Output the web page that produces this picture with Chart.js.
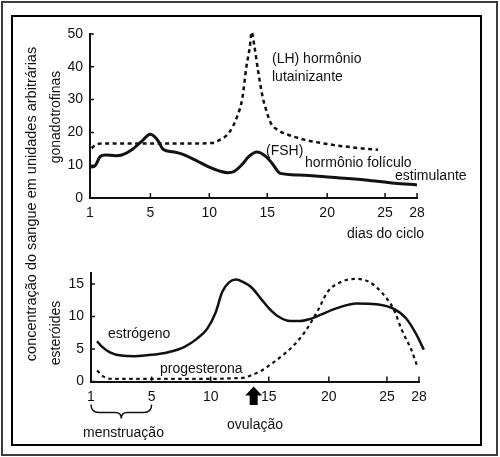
<!DOCTYPE html>
<html lang="pt">
<head>
<meta charset="utf-8">
<title>Hormônios do ciclo menstrual</title>
<script src="https://cdn.jsdelivr.net/npm/chart.js@4.4.1/dist/chart.umd.min.js"></script>
<style>
  body { margin: 0; background: #fff; }
  #wrap { position: relative; width: 500px; height: 457px; overflow: hidden;
          font-family: "Liberation Sans", Arial, sans-serif; color: #111; }
  .box { position: absolute; box-sizing: border-box; }
  #outer { left: 1px; top: 1px; width: 497px; height: 455px; border: 2px solid #3c3c3c; }
  #inner { left: 11px; top: 15px; width: 471px; height: 431px; border: 2px solid #000; }
  canvas { position: absolute; left: 0; }
  #top { top: 0; }
  #bottom { top: 240px; }
  .lbl { position: absolute; font-size: 14px; line-height: 14px; white-space: nowrap; }
  .rot { position: absolute; font-size: 14px; line-height: 14px; white-space: nowrap;
         transform: translate(-50%, -50%) rotate(-90deg); }
</style>
</head>
<body>
<div id="wrap">
  <div class="box" id="outer"></div>
  <div class="box" id="inner"></div>
  <canvas id="top" width="500" height="240"></canvas>
  <canvas id="bottom" width="500" height="217"></canvas>

  <div class="rot" style="left:31px; top:204px; font-size:14.5px;">concentração do sangue em unidades arbitrárias</div>
  <div class="rot" style="left:55px; top:117px;">gonadotrofinas</div>
  <div class="rot" style="left:55px; top:333px;">esteróides</div>

  <div class="lbl" style="left:272px; top:51px;">(LH) hormônio</div>
  <div class="lbl" style="left:272px; top:69px;">lutainizante</div>
  <div class="lbl" style="left:266px; top:143px;">(FSH)</div>
  <div class="lbl" style="left:305px; top:155px;">hormônio folículo</div>
  <div class="lbl" style="left:395px; top:168px;">estimulante</div>
  <div class="lbl" style="left:347px; top:226px;">dias do ciclo</div>
  <div class="lbl" style="left:108px; top:326px;">estrógeno</div>
  <div class="lbl" style="left:160px; top:361px;">progesterona</div>
  <div class="lbl" style="left:83px; top:425px;">menstruação</div>
  <div class="lbl" style="left:227px; top:417px;">ovulação</div>
</div>

<script>
// --- dados ---
const dayTicks = [1, 5, 10, 15, 20, 25, 28];
const gonadTicks = [0, 10, 20, 30, 40, 50];
const steroidTicks = [0, 5, 10, 15];

const fshDays   = [1, 1.33, 1.67, 2, 2.7, 3.1, 3.8, 4.4, 5, 5.6, 6.1, 6.9, 7.7, 8.9, 10, 10.9, 11.6, 12.1, 12.8, 13.4, 14.1, 14.9, 15.4, 16.1, 17.7, 20.4, 23.3, 25.9, 28];
const fshValues = [9.4, 9.8, 12.6, 13.1, 12.9, 13.1, 14.8, 17.2, 19.4, 17.7, 14.8, 14.1, 13.4, 11.4, 9.4, 8.2, 7.7, 8.0, 10.1, 12.6, 14.0, 12.6, 10.6, 7.5, 7.0, 6.3, 5.5, 4.5, 4.0];

const lhDays   = [1.1, 1.5, 2, 4, 6, 8, 10.3, 10.9, 11.7, 12.4, 12.85, 13.2, 13.5, 13.65, 13.9, 14.2, 14.6, 15.0, 15.3, 15.9, 16.8, 18.2, 20.5, 22.8, 24.4];
const lhValues = [15.2, 16.5, 16.6, 16.6, 16.6, 16.6, 16.8, 17.7, 19.9, 24.8, 30.4, 40, 46.1, 50.6, 46.1, 39, 30.9, 25.8, 22.8, 20.7, 19.2, 17.7, 16.2, 15.2, 14.7];

const estrogenDays   = [1.4, 1.7, 2.25, 3.0, 3.9, 5, 6.4, 7.75, 8.85, 9.7, 10.4, 11.0, 11.6, 12.2, 12.8, 13.5, 14.3, 15.0, 15.8, 16.8, 17.6, 18.4, 19.1, 20.7, 22.4, 24.1, 25.6, 26.8, 27.7, 28.45];
const estrogenValues = [6.2, 5.4, 4.5, 4.0, 3.9, 4.1, 4.5, 5.3, 6.6, 8.1, 10.5, 13.8, 15.3, 15.7, 15.3, 14.5, 12.8, 11.3, 10.0, 9.3, 9.3, 9.6, 10.1, 11.3, 12.0, 11.9, 11.2, 9.7, 7.4, 4.9];

const progesteroneDays   = [1.4, 1.8, 2.35, 4, 6, 8, 10, 12, 12.95, 13.4, 14.4, 14.9, 16.0, 17.1, 18.1, 19.1, 19.9, 21.0, 22.4, 23.5, 24.6, 25.6, 26.4, 27.3, 27.8];
const progesteroneValues = [1.7, 0.8, 0.4, 0.4, 0.4, 0.4, 0.4, 0.5, 0.6, 0.9, 1.7, 2.3, 3.8, 5.6, 7.9, 11.0, 13.8, 15.3, 15.8, 15.3, 13.6, 11.2, 7.9, 4.8, 2.5];

const menstruationDays = [1, 5];
const ovulationDay = 13.7;

// --- eixo dos dias: na figura original os intervalos não são iguais ---
const tickOffsets = [0, 60.5, 119.5, 177.5, 237.5, 295.5, 327.5];

function dayToFraction(d) {
  const n = dayTicks.length;
  let i = 0;
  while (i < n - 2 && d > dayTicks[i + 1]) i++;
  const slope = (tickOffsets[i + 1] - tickOffsets[i]) / (dayTicks[i + 1] - dayTicks[i]);
  return (tickOffsets[i] + (d - dayTicks[i]) * slope) / tickOffsets[n - 1];
}

class CycleDayScale extends Chart.LinearScale {
  getPixelForValue(value) {
    if (value === null || isNaN(value)) return NaN;
    return this.getPixelForDecimal(dayToFraction(value));
  }
  getValueForPixel(pixel) {
    const n = dayTicks.length;
    const f = this.getDecimalForPixel(pixel) * tickOffsets[n - 1];
    let i = 0;
    while (i < n - 2 && f > tickOffsets[i + 1]) i++;
    return dayTicks[i] + (f - tickOffsets[i]) * (dayTicks[i + 1] - dayTicks[i]) / (tickOffsets[i + 1] - tickOffsets[i]);
  }
}
CycleDayScale.id = 'cycleDay';
Chart.register(CycleDayScale);

Chart.defaults.font.family = '"Liberation Sans", Arial, sans-serif';
Chart.defaults.font.size = 14;
Chart.defaults.color = '#111';

function points(xs, ys) {
  return xs.map((x, i) => ({ x: x, y: ys[i] }));
}

function curve(xs, ys, width, dash) {
  return {
    data: points(xs, ys),
    borderColor: '#111',
    borderWidth: width,
    borderDash: dash,
    pointRadius: 0,
    fill: false,
    clip: false,
    cubicInterpolationMode: 'monotone'
  };
}

// small tick marks pointing into the plot, like the drawing
const innerTicks = {
  id: 'innerTicks',
  afterDatasetsDraw(chart) {
    const { ctx, chartArea, scales } = chart;
    ctx.save();
    ctx.strokeStyle = '#111';
    ctx.lineWidth = 1.5;
    ctx.beginPath();
    scales.x.ticks.forEach((t, i) => {
      const px = scales.x.getPixelForTick(i);
      ctx.moveTo(px, chartArea.bottom);
      ctx.lineTo(px, chartArea.bottom - 5);
    });
    scales.y.ticks.forEach((t, i) => {
      const py = scales.y.getPixelForTick(i);
      ctx.moveTo(chartArea.left, py);
      ctx.lineTo(chartArea.left + 4, py);
    });
    ctx.stroke();
    ctx.restore();
  }
};

// chave da menstruação e seta da ovulação
const cycleMarks = {
  id: 'cycleMarks',
  afterDraw(chart) {
    const { ctx, chartArea, scales } = chart;
    const yA = chartArea.bottom;
    const x1 = scales.x.getPixelForValue(menstruationDays[0]);
    const x2 = scales.x.getPixelForValue(menstruationDays[1]);
    const mid = (x1 + x2) / 2;
    ctx.save();
    ctx.strokeStyle = '#111';
    ctx.lineWidth = 1.5;
    ctx.beginPath();
    ctx.moveTo(x1, yA + 23);
    ctx.quadraticCurveTo(x1, yA + 31, x1 + 8, yA + 31);
    ctx.lineTo(mid - 6, yA + 31);
    ctx.quadraticCurveTo(mid, yA + 31, mid, yA + 37);
    ctx.quadraticCurveTo(mid, yA + 31, mid + 6, yA + 31);
    ctx.lineTo(x2 - 8, yA + 31);
    ctx.quadraticCurveTo(x2, yA + 31, x2, yA + 23);
    ctx.stroke();

    const ax = scales.x.getPixelForValue(ovulationDay);
    ctx.fillStyle = '#000';
    ctx.beginPath();
    ctx.moveTo(ax, yA + 5);
    ctx.lineTo(ax + 8.5, yA + 14);
    ctx.lineTo(ax + 4, yA + 14);
    ctx.lineTo(ax + 4, yA + 23.5);
    ctx.lineTo(ax - 4, yA + 23.5);
    ctx.lineTo(ax - 4, yA + 14);
    ctx.lineTo(ax - 8.5, yA + 14);
    ctx.closePath();
    ctx.fill();
    ctx.restore();
  }
};

function axes(yMax, yTicks) {
  return {
    x: {
      type: 'cycleDay',
      min: 1,
      max: 28,
      afterBuildTicks: s => { s.ticks = dayTicks.map(v => ({ value: v })); },
      afterFit: s => { s.height = 30; },
      ticks: { autoSkip: false, maxRotation: 0, padding: 7, callback: v => String(v) },
      grid: { display: true, drawOnChartArea: false, drawTicks: false },
      border: { display: true, color: '#111', width: 2 }
    },
    y: {
      type: 'linear',
      min: 0,
      max: yMax,
      afterBuildTicks: s => { s.ticks = yTicks.map(v => ({ value: v })); },
      afterFit: s => { s.width = 40; },
      ticks: { padding: 7, callback: v => String(v) },
      grid: { display: true, drawOnChartArea: false, drawTicks: false },
      border: { display: true, color: '#111', width: 2 }
    }
  };
}

const common = {
  responsive: false,
  animation: false,
  events: [],
  plugins: { legend: { display: false }, tooltip: { enabled: false } }
};

new Chart(document.getElementById('top'), {
  type: 'line',
  data: {
    datasets: [
      curve(fshDays, fshValues, 3, []),
      curve(lhDays, lhValues, 2.5, [4, 3.5])
    ]
  },
  options: Object.assign({}, common, {
    layout: { padding: { left: 50, top: 34, right: 83, bottom: 12 } },
    scales: axes(50, gonadTicks)
  }),
  plugins: [innerTicks]
});

new Chart(document.getElementById('bottom'), {
  type: 'line',
  data: {
    datasets: [
      curve(estrogenDays, estrogenValues, 2.5, []),
      curve(progesteroneDays, progesteroneValues, 2.2, [3.5, 3.5])
    ]
  },
  options: Object.assign({}, common, {
    layout: { padding: { left: 51, top: 33, right: 81, bottom: 45.5 } },
    scales: axes(16.7, steroidTicks)
  }),
  plugins: [innerTicks, cycleMarks]
});
</script>
</body>
</html>
